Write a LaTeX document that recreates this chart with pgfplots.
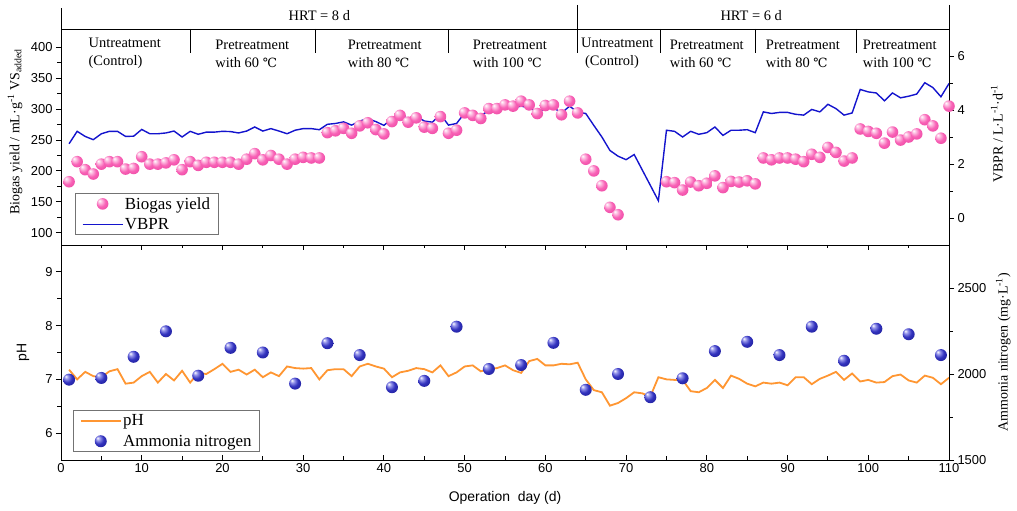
\documentclass[border=0pt]{standalone}
\usepackage{pgfplots}
\pgfplotsset{compat=1.18}
\usepackage{fontspec}
\setmainfont{Liberation Serif}
\setsansfont{Liberation Sans}
\newfontfamily\dvs[Scale=0.88]{DejaVu Serif}
\newcommand{\degC}{{\dvs ℃}}
\definecolor{pinkL}{RGB}{253,190,225}
\definecolor{pinkc}{RGB}{248,98,182}
\definecolor{pinkD}{RGB}{236,70,162}
\definecolor{pinkDD}{RGB}{210,48,138}
\definecolor{blueL}{RGB}{150,150,235}
\definecolor{bluec}{RGB}{50,50,190}
\definecolor{blueD}{RGB}{30,30,150}
\definecolor{blueDD}{RGB}{15,15,100}
\definecolor{vbpr}{RGB}{20,20,205}
\definecolor{phorange}{RGB}{255,150,50}
\pgfdeclareradialshading{pinkshade}{\pgfpoint{-14bp}{14bp}}{color(0bp)=(white); color(8bp)=(pinkL); color(20bp)=(pinkc); color(36bp)=(pinkD); color(50bp)=(pinkDD)}
\pgfdeclareradialshading{blueshade}{\pgfpoint{-14bp}{14bp}}{color(0bp)=(white); color(8bp)=(blueL); color(20bp)=(bluec); color(36bp)=(blueD); color(50bp)=(blueDD)}
\pgfdeclareplotmark{pinkball}{\pgfpathcircle{\pgfpointorigin}{\pgfplotmarksize}\pgfshadepath{pinkshade}{0}\pgfusepath{discard}}
\pgfdeclareplotmark{blueball}{\pgfpathcircle{\pgfpointorigin}{\pgfplotmarksize}\pgfshadepath{blueshade}{0}\pgfusepath{discard}}
\pgfplotsset{
  base/.style={
    scale only axis, width=888bp, xmin=0, xmax=110,
    axis line style={line width=0.9bp},
    every tick/.style={black, line width=0.9bp},
    major tick length=5bp, minor tick length=3.5bp,
    tick label style={font=\sffamily\fontsize{13}{15}\selectfont},
    /pgf/number format/assume math mode=true,
    /pgf/number format/1000 sep={},
    clip=false,
  },
  lineleg/.style={legend image code/.code={\draw[##1] (0bp,0bp) -- (40bp,0bp);}},
  ballleg/.style={legend image code/.code={\draw[mark repeat=2,mark phase=2,##1] plot coordinates {(0bp,0bp)(20bp,0bp)(40bp,0bp)};}},
}
\begin{document}
\begin{tikzpicture}[x=1bp,y=1bp]
\useasboundingbox (-61,-51) rectangle (956,460);
% ---------- top panel: VBPR (right axis)
\begin{axis}[base, at={(0bp,215bp)}, anchor=south west, height=216bp,
  hide x axis, axis y line*=right, ymin=-1, ymax=7,
  ytick={0,2,4,6}, minor y tick num=1, tick align=outside,
  ylabel={VBPR / L·L\textsuperscript{-1}·d\textsuperscript{-1}},
  ylabel style={at={(axis description cs:1.054,0.514)}, anchor=center, font=\fontsize{14}{14}\selectfont},
]
\addplot[color=vbpr, line width=1.4bp, no marks] coordinates {
(1,2.75)(2,3.21)(3,3.02)(4,2.90)(5,3.12)(6,3.21)(7,3.21)(8,3.02)(9,3.03)(10,3.28)
(11,3.12)(12,3.12)(13,3.15)(14,3.22)(15,3.00)(16,3.21)(17,3.10)(18,3.18)(19,3.18)(20,3.21)
(21,3.20)(22,3.15)(23,3.22)(24,3.37)(25,3.22)(26,3.31)(27,3.22)(28,3.12)(29,3.25)(30,3.31)
(31,3.31)(32,3.27)(33,3.47)(34,3.50)(35,3.56)(36,3.44)(37,3.59)(38,3.68)(39,3.57)(40,3.43)
(41,3.68)(42,3.83)(43,3.68)(44,3.78)(45,3.59)(46,3.55)(47,3.84)(48,3.44)(49,3.50)(50,3.89)
(51,3.84)(52,3.78)(53,3.99)(54,3.99)(55,4.05)(56,4.09)(57,4.14)(58,4.09)(59,3.92)(60,4.05)
(61,4.09)(62,3.89)(63,4.14)(64,3.92)(65,3.87)(66,3.43)(67,3.00)(68,2.50)(69,2.29)(70,2.16)
(71,2.35)(72,1.78)(73,1.21)(74,0.64)(75,3.25)(76,3.21)(77,3.00)(78,3.21)(79,3.10)(80,3.16)
(81,3.37)(82,3.06)(83,3.25)(84,3.25)(85,3.27)(86,3.16)(87,3.93)(88,3.87)(89,3.91)(90,3.91)
(91,3.84)(92,3.81)(93,4.02)(94,3.93)(95,4.21)(96,4.05)(97,3.81)(98,3.89)(99,4.76)(100,4.67)
(101,4.63)(102,4.34)(103,4.63)(104,4.45)(105,4.51)(106,4.59)(107,5.01)(108,4.83)(109,4.49)(110,4.98)
};
\end{axis}
% ---------- top panel: biogas yield (left axis)
\begin{axis}[base, at={(0bp,215bp)}, anchor=south west, height=216bp,
  ymin=80, ymax=430, xtick=\empty, ytick={100,150,...,400}, minor y tick num=1,
  ytick pos=left, tick align=outside,
  ylabel={Biogas yield / mL·g\textsuperscript{-1} VS\textsubscript{added}},
  ylabel style={at={(axis description cs:-0.0518,0.523)}, anchor=center, font=\fontsize{14}{14}\selectfont},
  legend style={at={(0.0158,0.0463)}, anchor=south west, draw=black!55, line width=0.8bp, fill=white,
    font=\fontsize{17}{17}\selectfont, inner xsep=6.5bp, inner ysep=2.5bp, row sep=4.5bp,
    nodes={inner sep=1.5bp}, /tikz/every even column/.append style={column sep=3bp}},
  legend cell align=left,
]
\addplot[only marks, mark=pinkball, mark size=5.8bp, ballleg] coordinates {
(1,182.5)(2,215)(3,202)(4,195)(5,211)(6,215)(7,215)(8,203)(9,204)(10,223)
(11,211)(12,211)(13,213)(14,218)(15,202)(16,215)(17,209)(18,214)(19,214)(20,214)
(21,214)(22,211)(23,219)(24,228)(25,218)(26,225)(27,219)(28,211)(29,219)(30,222)
(31,221)(32,221)(33,262)(34,265)(35,269)(36,261)(37,273)(38,278)(39,267)(40,260)
(41,280)(42,290)(43,279)(44,286)(45,271)(46,269)(47,288)(48,261)(49,266)(50,294)
(51,290)(52,285)(53,301)(54,301)(55,307)(56,305)(57,313)(58,307)(59,293)(60,306)
(61,307)(62,291)(63,313)(64,294)(65,219)(66,200)(67,176)(68,141)(69,129)
(75,182.5)(76,181)(77,169)(78,182)(79,176)(80,180)(81,192)(82,173)(83,183)(84,182)(85,184)(86,179)
(87,221)(88,218)(89,221)(90,221)(91,219)(92,215)(93,227)(94,222)(95,238)(96,230)(97,216)(98,221)
(99,268)(100,264)(101,261)(102,245)(103,263)(104,250)(105,255)(106,260)(107,283)(108,273)(109,253)(110,305)
};
\addlegendentry{Biogas yield}
\addlegendimage{color=vbpr, line width=1.4bp, no marks, lineleg}
\addlegendentry{VBPR}
% header
\draw[line width=0.9bp] (axis cs:0,464) -- (axis cs:0,430);
\draw[line width=0.9bp] (axis cs:64,468.9) -- (axis cs:64,391.1);
\draw[line width=0.9bp] (axis cs:110,468.9) -- (axis cs:110,430);
\pgfplotsinvokeforeach{16,31.5,48,74.3,86.05,98.56}{\draw[line width=0.9bp] (axis cs:#1,430) -- (axis cs:#1,391.1);}
\node[font=\fontsize{14.5}{17}\selectfont] at (axis cs:32,451) {HRT = 8 d};
\node[font=\fontsize{14.5}{17}\selectfont] at (axis cs:85.5,451) {HRT = 6 d};
\node[font=\fontsize{14.5}{18}\selectfont, align=left] at (axis cs:7.9,390) {Untreatment\\(Control)};
\node[font=\fontsize{14.5}{18}\selectfont, align=left] at (axis cs:23.7,390) {Pretreatment\\with 60 \degC};
\node[font=\fontsize{14.5}{18}\selectfont, align=left] at (axis cs:40.1,390) {Pretreatment\\with 80 \degC};
\node[font=\fontsize{14.5}{18}\selectfont, align=left] at (axis cs:55.6,390) {Pretreatment\\with 100 \degC};
\node[font=\fontsize{14.5}{18}\selectfont, align=left] at (axis cs:68.9,390) {Untreatment\\\hspace*{4bp}(Control)};
\node[font=\fontsize{14.5}{18}\selectfont, align=left] at (axis cs:80.0,390) {Pretreatment\\with 60 \degC};
\node[font=\fontsize{14.5}{18}\selectfont, align=left] at (axis cs:91.9,390) {Pretreatment\\with 80 \degC};
\node[font=\fontsize{14.5}{18}\selectfont, align=left] at (axis cs:103.9,390) {Pretreatment\\with 100 \degC};
\end{axis}
% ---------- bottom panel frame + x axis
\begin{axis}[base, at={(0bp,0bp)}, anchor=south west, height=215bp,
  ymin=5.5, ymax=9.5, ytick=\empty, xtick={0,10,...,110}, minor x tick num=1,
  xtick pos=both, tick align=inside, xticklabel pos=bottom,
  xlabel={Operation\ \ day (d)},
  xlabel style={at={(axis description cs:0.5,-0.177)}, anchor=center, font=\sffamily\fontsize{14}{14}\selectfont},
]
\end{axis}
% ---------- bottom panel: pH (left axis)
\begin{axis}[base, at={(0bp,0bp)}, anchor=south west, height=215bp,
  hide x axis, axis y line*=left, ymin=5.5, ymax=9.5, ytick={6,7,8,9}, minor y tick num=1,
  tick align=outside,
  ylabel={pH},
  ylabel style={at={(axis description cs:-0.0428,0.5)}, anchor=center, font=\sffamily\fontsize{14}{14}\selectfont},
]
\addplot[color=phorange, line width=1.8bp, no marks] coordinates {
(1,7.18)(2,7.00)(3,7.14)(4,7.06)(5,7.04)(6,7.15)(7,7.19)(8,6.92)(9,6.94)(10,7.06)
(11,7.14)(12,6.94)(13,7.10)(14,6.98)(15,7.16)(16,6.94)(17,7.12)(18,7.10)(19,7.19)(20,7.29)
(21,7.14)(22,7.18)(23,7.09)(24,7.18)(25,7.04)(26,7.13)(27,7.06)(28,7.24)(29,7.21)(30,7.20)
(31,7.21)(32,7.00)(33,7.17)(34,7.19)(35,7.19)(36,7.06)(37,7.24)(38,7.29)(39,7.24)(40,7.20)
(41,7.04)(42,7.13)(43,7.16)(44,7.21)(45,7.19)(46,7.13)(47,7.26)(48,7.06)(49,7.13)(50,7.24)
(51,7.26)(52,7.15)(53,7.19)(54,7.21)(55,7.26)(56,7.17)(57,7.12)(58,7.34)(59,7.38)(60,7.26)
(61,7.26)(62,7.29)(63,7.28)(64,7.31)(65,7.00)(66,6.80)(67,6.76)(68,6.51)(69,6.56)(70,6.65)
(71,6.76)(72,6.74)(73,6.68)(74,7.04)(75,7.00)(76,6.99)(77,6.99)(78,6.78)(79,6.76)(80,6.84)
(81,6.99)(82,6.84)(83,7.07)(84,7.01)(85,6.92)(86,6.87)(87,6.94)(88,6.92)(89,6.94)(90,6.89)
(91,7.04)(92,7.04)(93,6.91)(94,7.01)(95,7.07)(96,7.14)(97,6.99)(98,7.11)(99,6.96)(100,6.99)
(101,6.94)(102,6.95)(103,7.06)(104,7.09)(105,6.98)(106,6.94)(107,7.07)(108,7.03)(109,6.91)(110,7.03)
};
\end{axis}
% ---------- bottom panel: ammonia nitrogen (right axis)
\begin{axis}[base, at={(0bp,0bp)}, anchor=south west, height=215bp,
  hide x axis, axis y line*=right, ymin=1500, ymax=2750, ytick={1500,2000,2500}, minor y tick num=1,
  tick align=outside,
  ylabel={Ammonia nitrogen (mg·L\textsuperscript{-1})},
  ylabel style={at={(axis description cs:1.061,0.502)}, anchor=center, font=\fontsize{14}{14}\selectfont},
  legend style={at={(0.0135,0.0372)}, anchor=south west, draw=black!55, line width=0.8bp, fill=white,
    font=\fontsize{17}{17}\selectfont, inner xsep=6.5bp, inner ysep=2.5bp, row sep=4.5bp,
    nodes={inner sep=1.5bp}, /tikz/every even column/.append style={column sep=3bp}},
  legend cell align=left,
]
\addlegendimage{color=phorange, line width=1.8bp, no marks, lineleg}
\addlegendentry{pH}
\addplot[only marks, mark=blueball, mark size=6bp, ballleg] coordinates {
(1,1967)(5,1977)(9,2100)(13,2248)(17,1990)(21,2152)(25,2125)(29,1944)(33,2179)
(37,2110)(41,1923)(45,1960)(49,2275)(53,2029)(57,2052)(61,2181)(65,1908)(69,2000)(73,1865)
(77,1975)(81,2133)(85,2187)(89,2110)(93,2275)(97,2077)(101,2263)(105,2231)(109,2110)
};
\addlegendentry{Ammonia nitrogen}
\end{axis}
\end{tikzpicture}
\end{document}
